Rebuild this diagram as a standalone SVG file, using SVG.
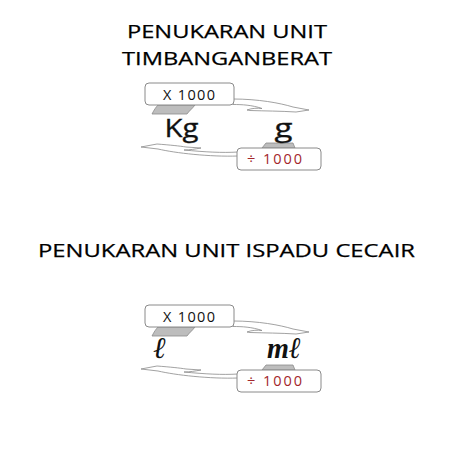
<svg xmlns="http://www.w3.org/2000/svg" width="453" height="453" viewBox="0 0 453 453">
<style>
.title{font-family:"Open Sans","Noto Sans",sans-serif;font-size:18.5px;fill:#000;stroke:#000;stroke-width:0.25}
.box{fill:#fff;stroke:#8a8a8a;stroke-width:1}
.tab{fill:#bdbdbd;stroke:#8a8a8a;stroke-width:0.8}
.op{font-family:"Open Sans","Liberation Sans",sans-serif;font-size:14.5px;fill:#111}
.op2{font-family:"Open Sans","Liberation Sans",sans-serif;font-size:14.5px;fill:#a3262b}
.unit{font-family:"Open Sans","Liberation Sans",sans-serif;font-size:25px;fill:#111;stroke:#111;stroke-width:0.3}
.script{font-family:"Liberation Serif","DejaVu Serif",serif;font-style:italic;font-weight:bold;font-size:30px;fill:#111}
.arrow{fill:#fff;stroke:#8a8a8a;stroke-width:0.8}
</style>
<rect width="453" height="453" fill="#fff"/>
<g id="title1">
<text class="title" x="227" y="38" text-anchor="middle" textLength="200" lengthAdjust="spacingAndGlyphs">PENUKARAN UNIT</text>
<text class="title" x="227" y="65" text-anchor="middle" textLength="210" lengthAdjust="spacingAndGlyphs">TIMBANGANBERAT</text>
</g>
<g id="title2">
<text class="title" x="226.5" y="257" text-anchor="middle" textLength="377" lengthAdjust="spacingAndGlyphs">PENUKARAN UNIT ISPADU CECAIR</text>
</g>
<g id="connectors">
<path class="arrow" d="M233,99 C258,99 280,103 293,107 L309,110 L296,112 C280,111 265,111 250,110.5 L247,110 C252,108 258,108 262,108.5 C252,105 242,104.5 233,104.5 Z"/>
<path class="arrow" d="M238,156 C210,157 175,153 158,149 L141,147 L157,144 C170,145 180,146 186,147 L201,148 C195,149 190,150 184,150 C205,152 222,153 238,152 Z"/>
<g transform="translate(0,222)">
<path class="arrow" d="M233,99 C258,99 280,103 293,107 L309,110 L296,112 C280,111 265,111 250,110.5 L247,110 C252,108 258,108 262,108.5 C252,105 242,104.5 233,104.5 Z"/>
<path class="arrow" d="M238,156 C210,157 175,153 158,149 L141,147 L157,144 C170,145 180,146 186,147 L201,148 C195,149 190,150 184,150 C205,152 222,153 238,152 Z"/>
</g>
</g>
<g id="mul1">
<path class="tab" d="M158,105 L195,105 C192,109 189,111 187,114 L152,114 C154,110 156,107 158,105 Z"/>
<rect class="box" x="145" y="83" width="89" height="22" rx="4"/>
<text class="op" x="189" y="99.5" text-anchor="middle" textLength="52" lengthAdjust="spacing">X 1000</text>
</g>
<g id="div1">
<path class="tab" d="M266,143 L293,143 L295,148 L262,148 Z"/>
<rect class="box" x="237" y="148" width="84" height="22" rx="4"/>
<text class="op2" x="274.5" y="164" text-anchor="middle" textLength="55" lengthAdjust="spacing">÷ 1000</text>
</g>
<g id="kg">
<text class="unit" x="181.5" y="137" text-anchor="middle" textLength="34" lengthAdjust="spacingAndGlyphs">Kg</text>
</g>
<g id="g">
<text class="unit" x="283.5" y="137" text-anchor="middle" textLength="18" lengthAdjust="spacingAndGlyphs">g</text>
</g>
<g id="mul2">
<path class="tab" d="M158,327 L195,327 C192,331 189,333 187,336 L152,336 C154,332 156,329 158,327 Z"/>
<rect class="box" x="145" y="305" width="89" height="22" rx="4"/>
<text class="op" x="189" y="321.5" text-anchor="middle" textLength="52" lengthAdjust="spacing">X 1000</text>
</g>
<g id="div2">
<path class="tab" d="M266,365 L293,365 L295,370 L262,370 Z"/>
<rect class="box" x="237" y="370" width="84" height="22" rx="4"/>
<text class="op2" x="274.5" y="386" text-anchor="middle" textLength="55" lengthAdjust="spacing">÷ 1000</text>
</g>
<g id="litre">
<text class="script" x="160" y="358" text-anchor="middle">ℓ</text>
</g>
<g id="ml">
<text class="script" x="284" y="358" text-anchor="middle" textLength="34" lengthAdjust="spacingAndGlyphs">mℓ</text>
</g>
</svg>
